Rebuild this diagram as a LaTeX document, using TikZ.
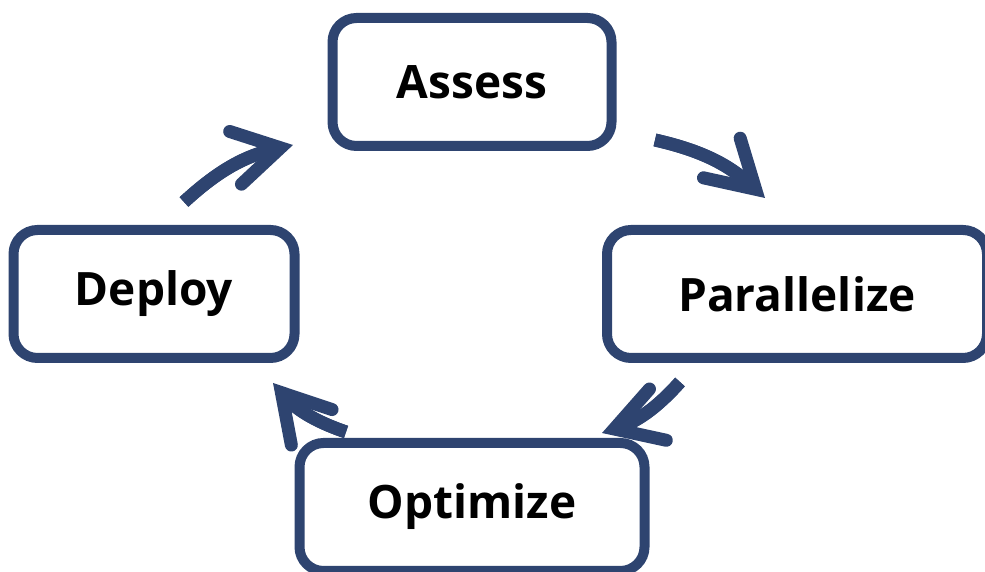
\documentclass[tikz,border=0pt]{standalone}
\usepackage{fontspec}
\setmainfont{Open Sans}
\usetikzlibrary{arrows.meta,positioning}
\definecolor{navy}{RGB}{46,68,112}
\tikzset{>/.tip={Straight Barb[length=46pt,width=54pt,line width=0pt 1,line cap=round,line join=miter]}}

\begin{document}
\begin{tikzpicture}[x=1pt,y=1pt,on grid,
    stage/.style={draw=navy,line width=10pt,rounded corners=24pt,
      minimum height=128pt,font=\fontsize{46}{56}\selectfont\bfseries},
    flow/.style={->,draw=navy,line width=13pt,
      postaction={draw=navy,-,shorten >=14pt}}]
  \useasboundingbox (0,0) rectangle (985,572);
  % the four stages
  \node[stage,minimum width=279pt](assess) at (472,490){Assess};
  \node[stage,minimum width=380pt](par)[below right=212pt and 325pt of assess]{Parallelize};
  \node[stage,minimum width=345pt](opt)[below=425pt of assess]{Optimize};
  \node[stage,minimum width=281pt](deploy)[below left=212pt and 318pt of assess]{Deploy};
  % ends of the cycle arrows
  \coordinate (da) at (184,370);
  \coordinate (ad) at (293,427);
  \coordinate (ap) at (655,432);
  \coordinate (pa) at (765,374);
  \coordinate (po) at (680,190);
  \coordinate (op) at (602,139);
  \coordinate (od) at (346,140);
  \coordinate (do) at (273,189);
  \draw[flow] (da) to[bend left=15] (ad);
  \draw[flow] (ap) to[bend left=15] (pa);
  \draw[flow] (po) to[bend left=15] (op);
  \draw[flow] (od) to[bend left=15] (do);
\end{tikzpicture}
\end{document}
